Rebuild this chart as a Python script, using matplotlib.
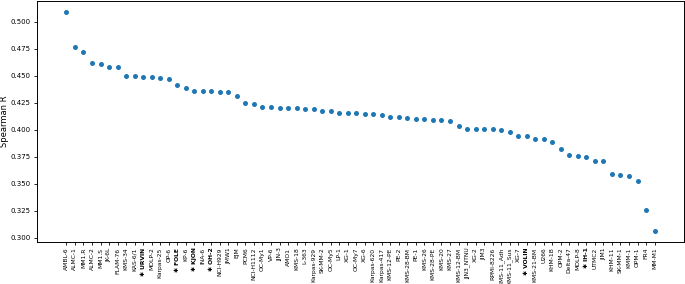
import matplotlib
matplotlib.use("Agg")
import matplotlib.pyplot as plt

# cell lines ordered by Spearman R (highlighted lines marked in bold)
cell_lines = [
    "AMBL-6", "ALMC-1", "MM1.R", "ALMC-2", "MM1.S", "JK-6L", "FLAM-76", "KMS-34",
    "KAS-6/1", "URVIN", "MOLP-2", "Karpas-25", "OP-6", "FOLE", "KP-6", "KJON",
    "INA-6", "OH-2", "NCI-H929", "JMW1", "EJM", "PCM6", "NCI-H1112", "OC-My1",
    "VP-6", "JJN-3", "AMO1", "KMS-18", "L-363", "Karpas-929", "SK-MM-2", "OC-My5",
    "LP-1", "XG-1", "OC-My7", "XG-6", "Karpas-620", "Karpas-417", "KMS-12-PE", "PE-2",
    "KMS-28-BM", "PE-1", "KMS-26", "KMS-28-PE", "KMS-20", "KMS-27", "KMS-12-BM",
    "JJN3_NTNU", "XG-2", "JIM3", "RPMI-8226", "KMS-11_Adh", "KMS-11_Sus", "XG-7",
    "VOLIN", "KMS-21-BM", "U266", "KHM-1B", "OPM-2", "Delta-47", "MOLP-8", "IH-1",
    "UTMC2", "JIM1", "KHM-11", "SK-MM-1", "KMM-1", "OPM-1", "FR4", "MM-M1",
]
highlighted = ["URVIN", "FOLE", "KJON", "OH-2", "VOLIN", "IH-1"]

spearman_r = [
    0.509, 0.477, 0.4717, 0.4622, 0.4604, 0.4585, 0.4585, 0.4500,
    0.4497, 0.4490, 0.4488, 0.4475, 0.4468, 0.4413, 0.4389, 0.4361,
    0.4361, 0.4361, 0.4352, 0.4349, 0.4315, 0.4244, 0.4241, 0.4214,
    0.4214, 0.4205, 0.4202, 0.4199, 0.4196, 0.4193, 0.4177, 0.4174,
    0.4159, 0.4159, 0.4159, 0.4148, 0.4148, 0.4137, 0.4118, 0.4115,
    0.4106, 0.4100, 0.4100, 0.4094, 0.4088, 0.4078, 0.4035,
    0.4011, 0.4011, 0.4011, 0.4008, 0.3995, 0.3980, 0.3943,
    0.3943, 0.3910, 0.3910, 0.3885, 0.3823, 0.3762, 0.3756, 0.3750,
    0.3710, 0.3707, 0.3593, 0.3581, 0.3569, 0.3525, 0.3258, 0.3062,
]

fig = plt.figure(figsize=(6.85, 2.84), dpi=100)
ax = fig.add_axes([37 / 685, 1 - 242 / 284, (684 - 37) / 685, 241 / 284])

x = list(range(len(cell_lines)))
ax.plot(x, spearman_r, "o", color="#1f77b4", ms=3.6, mec="none")

labels = [f"\u2731 {c}" if c in highlighted else c for c in cell_lines]
ax.set_xticks(x)
ax.set_xticklabels(labels, rotation=90, fontsize=4.3)
for lbl, c in zip(ax.get_xticklabels(), cell_lines):
    if c in highlighted:
        lbl.set_fontweight("bold")

ax.set_ylabel("Spearman R", fontsize=6, labelpad=1)
ax.tick_params(axis="y", labelsize=5, length=2.5, width=0.6, pad=2)
ax.tick_params(axis="x", length=2.5, width=0.6, pad=1.5)
for s in ax.spines.values():
    s.set_linewidth(0.7)

fig.savefig("out.png", dpi=100)
